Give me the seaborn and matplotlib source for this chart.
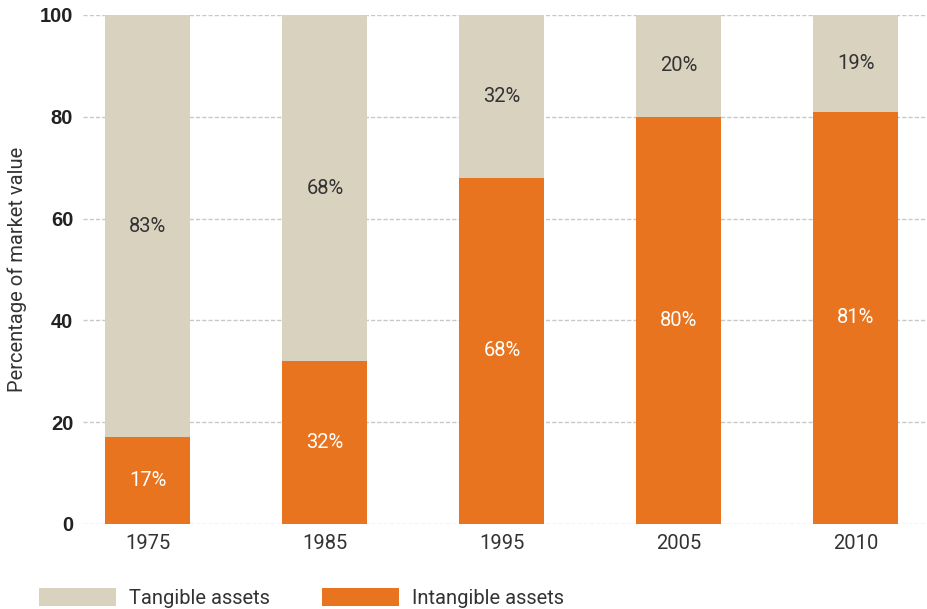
import matplotlib
matplotlib.use("Agg")
import matplotlib.pyplot as plt
import seaborn as sns
import pandas as pd
from matplotlib.patches import Patch

years = ["1975", "1985", "1995", "2005", "2010"]
intangible = [17, 32, 68, 80, 81]
tangible = [83, 68, 32, 20, 19]
yticks = [0, 20, 40, 60, 80, 100]

c_tang = "#D9D2BF"
c_intang = "#E8741F"
txt = "#333333"

sns.set_theme(style="white")
plt.rcParams["font.family"] = ["Roboto", "DejaVu Sans"]

df = pd.DataFrame({"year": years, "intangible": intangible, "tangible": tangible})
df["total"] = df["intangible"] + df["tangible"]

fig = plt.figure(figsize=(9.28, 6.09), dpi=100)
ax = fig.add_axes([0.0894, 0.1396, 0.9106, 0.8358])

sns.barplot(data=df, x="year", y="total", color=c_tang, width=0.48,
            saturation=1, ax=ax, zorder=2, linewidth=0)
sns.barplot(data=df, x="year", y="intangible", color=c_intang, width=0.48,
            saturation=1, ax=ax, zorder=3, linewidth=0)

ax.set_xlim(-0.367, 4.407)
ax.set_ylim(0, 100)
ax.set_yticks(yticks)
ax.set_yticklabels([str(v) for v in yticks], fontsize=14.5, fontweight="bold",
                   color="#222222", family=["Liberation Sans", "DejaVu Sans"])
ax.tick_params(axis="y", length=0, pad=7)
ax.tick_params(axis="x", length=0, pad=7, labelsize=14.5, labelcolor=txt)
ax.set_xlabel("")
ax.set_ylabel("Percentage of market value", fontsize=14.5, color=txt)
ax.yaxis.set_label_coords(-0.066, 0.5)

for y in yticks:
    ax.axhline(y, color="#c8c8c8", lw=1, ls=(0, (3, 1.5)), zorder=1)

for s in ax.spines.values():
    s.set_visible(False)

for i, (a, b) in enumerate(zip(intangible, tangible)):
    ax.text(i, a / 2, f"{a}%", ha="center", va="center", fontsize=14.5,
            color="white", zorder=4)
    ax.text(i, a + b / 2, f"{b}%", ha="center", va="center", fontsize=14.5,
            color=txt, zorder=4)

handles = [Patch(facecolor=c_tang, edgecolor="none", label="Tangible assets"),
           Patch(facecolor=c_intang, edgecolor="none", label="Intangible assets")]
leg = fig.legend(handles=handles, loc="lower left", bbox_to_anchor=(0.023, -0.028),
                 ncol=2, frameon=False, fontsize=14.5, handlelength=3.8,
                 handleheight=1.0, handletextpad=0.65, columnspacing=2.6)
for t in leg.get_texts():
    t.set_color(txt)

fig.savefig("out.png", dpi=100)
